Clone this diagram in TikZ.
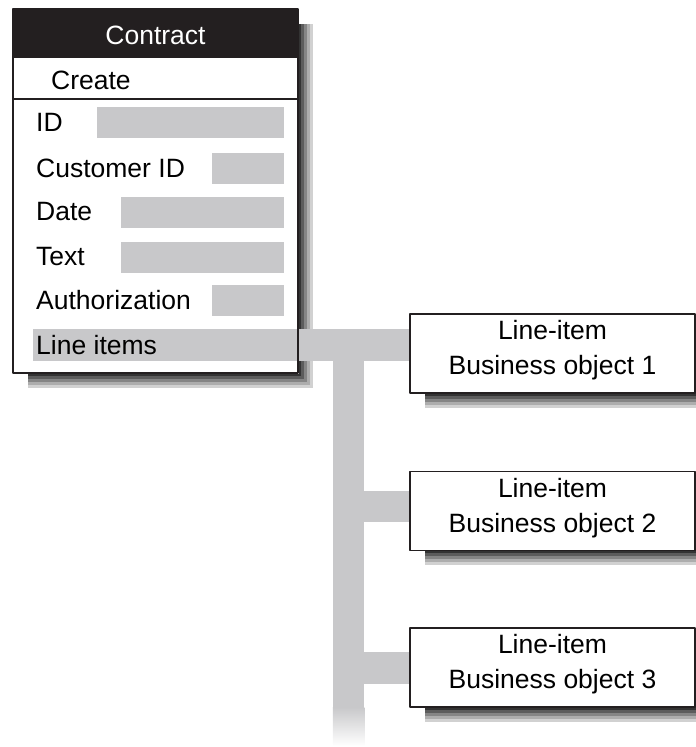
\documentclass[tikz,border=0pt]{standalone}
\usepackage{fontspec}
\setmainfont{Liberation Sans}
\usetikzlibrary{calc}
\definecolor{bargray}{RGB}{200,200,202}
\definecolor{headblack}{RGB}{35,31,32}
\pgfdeclarelayer{shade}
\pgfdeclarelayer{bars}
\pgfsetlayers{shade,bars,main}
\tikzset{
  fieldlabel/.style={anchor=west, inner sep=3pt},
  field/.style={fill=bargray},
  itembox/.style={draw=headblack, line width=1.5pt, fill=white, minimum width=285pt,
    minimum height=79pt, inner sep=0pt, align=center, text depth=12pt},
  connector/.style={draw=bargray, line width=31.5pt},
  sepline/.style={draw=headblack, line width=1.3pt}
}
% drop shadow under a box, dark at the edge
\newcommand\dropshadow[1]{%
  \foreach \d/\c in {14/18,11/32,8/48,5/64,2/80}
    \fill[black!\c] ($(#1.north west)+(16,16)$) rectangle ($(#1.south east)+(\d,\d)$);}
\begin{document}
\begin{tikzpicture}
[x=1pt, y=-1pt, font=\fontsize{26.5}{35}\selectfont, line join=round]
\useasboundingbox (0,0) rectangle (696,747);
% contract form
\node[draw=headblack, line width=1.6pt, minimum width=285pt, minimum height=364pt,
  inner sep=0pt] (contract) at (155.5,191) {};
\node[fill=headblack, text=white, minimum width=285pt, minimum height=50pt,
  inner sep=0pt, text height=23pt, text depth=0pt, anchor=north] (head) at (contract.north) {Contract};
\node[fieldlabel] (create) at (48,80) {Create};
\draw[sepline] (contract.west |- 0,99) -- (contract.east |- 0,99);
\foreach \nm/\lbl/\y/\left in {id/ID/122.5/97, cust/Customer ID/168/212,
  date/Date/212/121, text/Text/257/121, auth/Authorization/300/212}{
  \fill[field] (\left,\y-15.5) rectangle (284,\y+15.5);
  \node[fieldlabel] (lab-\nm) at (33,\y) {\lbl};
}
\node[fieldlabel] (lineitems) at (33,345) {Line items};
% line-item objects
\foreach \i/\y in {1/353.5,2/511,3/667.5}
  \node[itembox] (item\i) at (552.5,\y) {Line-item\\Business object \i};
\coordinate (trunk) at (348.5,345);
\coordinate (br2) at (348.5,506.5);
\coordinate (br3) at (348.5,668);
\coordinate (fade) at (348.5,707);
\coordinate (trunkend) at (348.5,746);
\begin{pgfonlayer}{shade}
  \dropshadow{contract}
  \foreach \i in {1,2,3} \dropshadow{item\i}
  \fill[white] (contract.north west) rectangle (contract.south east);
\end{pgfonlayer}
\begin{pgfonlayer}{bars}
  \draw[connector] (lineitems.west) -- (lineitems -| item1.west);
  \draw[connector] (trunk) -- (fade);
  \draw[connector] (br2) -- (br2 -| item2.west);
  \draw[connector] (br3) -- (br3 -| item3.west);
  \shade[top color=bargray, bottom color=white] ($(fade)+(-15.75,0)$)
    rectangle ($(trunkend)+(15.75,0)$);
\end{pgfonlayer}
\end{tikzpicture}
\end{document}
